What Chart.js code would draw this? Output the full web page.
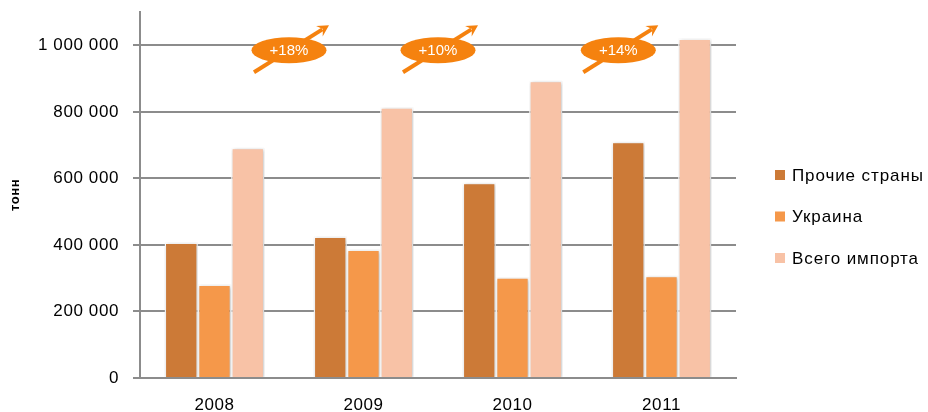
<!DOCTYPE html>
<html>
<head>
<meta charset="utf-8">
<script src="https://cdn.jsdelivr.net/npm/chart.js@4.4.1/dist/chart.umd.min.js"></script>
<style>
  html, body { margin: 0; padding: 0; background: #fff; }
  #wrap { width: 928px; height: 412px; }
</style>
</head>
<body>
<div id="wrap"><canvas id="c" width="928" height="412"></canvas></div>
<script>
const categories = ['2008', '2009', '2010', '2011'];
const seriesNames = ['Прочие страны', 'Украина', 'Всего импорта'];
const otherCountries = [407000, 425000, 587000, 710000];
const ukraine = [281000, 386000, 303000, 307000];
const totalImport = [692000, 814000, 893000, 1020000];
const yTickValues = [0, 200000, 400000, 600000, 800000, 1000000];
const growthLabels = ['+18%', '+10%', '+14%'];

const colors = ['#CC7A37', '#F5984A', '#F8C2A6'];
const FONT = "'Liberation Sans', Arial, sans-serif";
const growthPos = [0.5, 1.5, 2.71];   // category-index positions of growth markers
const growthValue = 985000;           // value level of growth markers

function fmt(v) {
  return String(v).replace(/\B(?=(\d{3})+(?!\d))/g, ' ');
}

const spacingPlugin = {
  id: 'spacing',
  beforeDraw(chart) { chart.ctx.letterSpacing = '0.6px'; }
};

const shadowPlugin = {
  id: 'barShadow',
  beforeDatasetsDraw(chart) {
    const ctx = chart.ctx;
    ctx.save();
    ctx.shadowColor = 'rgba(0,0,0,0.25)';
    ctx.shadowBlur = 4;
    ctx.shadowOffsetX = 1;
    ctx.shadowOffsetY = 1;
  },
  afterDatasetsDraw(chart) {
    chart.ctx.restore();
  }
};

const growthPlugin = {
  id: 'growth',
  afterDatasetsDraw(chart) {
    const ctx = chart.ctx;
    const xs = chart.scales.x, ys = chart.scales.y;
    const step = xs.getPixelForValue(1) - xs.getPixelForValue(0);
    growthLabels.forEach((lab, i) => {
      const cx = xs.getPixelForValue(0) + growthPos[i] * step;
      const cy = ys.getPixelForValue(growthValue);
      ctx.save();
      ctx.strokeStyle = '#F5820F';
      ctx.fillStyle = '#F5820F';
      ctx.lineWidth = 4;
      const x0 = cx - 35, y0 = cy + 22, x1 = cx + 40, y1 = cy - 25;
      const ang = Math.atan2(y1 - y0, x1 - x0);
      const hl = 13;
      ctx.beginPath();
      ctx.moveTo(x0, y0);
      ctx.lineTo(x1 - Math.cos(ang) * hl * 0.6, y1 - Math.sin(ang) * hl * 0.6);
      ctx.stroke();
      ctx.beginPath();
      ctx.moveTo(x1, y1);
      ctx.lineTo(x1 - hl * Math.cos(ang - 0.5), y1 - hl * Math.sin(ang - 0.5));
      ctx.lineTo(x1 - hl * 0.55 * Math.cos(ang), y1 - hl * 0.55 * Math.sin(ang));
      ctx.lineTo(x1 - hl * Math.cos(ang + 0.5), y1 - hl * Math.sin(ang + 0.5));
      ctx.closePath();
      ctx.fill();
      ctx.beginPath();
      ctx.ellipse(cx, cy, 37.5, 13, 0, 0, Math.PI * 2);
      ctx.fill();
      ctx.fillStyle = '#FFFFFF';
      ctx.font = '15px ' + FONT;
      ctx.letterSpacing = '0px';
      ctx.textAlign = 'center';
      ctx.textBaseline = 'middle';
      ctx.fillText(lab, cx, cy + 1);
      ctx.restore();
    });
  }
};

const legendPlugin = {
  id: 'sideLegend',
  afterDraw(chart) {
    const ctx = chart.ctx;
    const ca = chart.chartArea;
    ctx.save();
    chart.data.datasets.forEach((ds, i) => {
      const y = ca.top + 163 + i * 41.5;
      const x = ca.right + 39;
      ctx.fillStyle = ds.backgroundColor;
      ctx.fillRect(x, y - 5, 10, 10);
      ctx.fillStyle = '#000';
      ctx.font = '17px ' + FONT;
      ctx.letterSpacing = '0.9px';
      ctx.textAlign = 'left';
      ctx.textBaseline = 'middle';
      ctx.fillText(ds.label, x + 17, y + 1);
    });
    ctx.restore();
  }
};

const seriesData = [otherCountries, ukraine, totalImport];

new Chart(document.getElementById('c'), {
  type: 'bar',
  data: {
    labels: categories,
    datasets: seriesData.map((d, i) => ({
      label: seriesNames[i],
      data: d,
      backgroundColor: colors[i],
      borderColor: '#FFFFFF',
      borderWidth: 1.5,
      categoryPercentage: 0.67,
      barPercentage: 1.0
    }))
  },
  options: {
    responsive: false,
    animation: false,
    devicePixelRatio: 1,
    layout: { padding: { top: 12, right: 192, left: 0, bottom: 0 } },
    plugins: {
      legend: { display: false },
      tooltip: { enabled: false }
    },
    scales: {
      x: {
        grid: { display: false, drawTicks: false },
        border: { display: true, color: '#8C8C8C', width: 2 },
        ticks: { color: '#000', font: { family: FONT, size: 17 }, padding: 17 },
        afterFit(s) { s.height = 34; s.paddingLeft = 0; s.paddingRight = 0; }
      },
      y: {
        min: 0,
        max: 1100000,
        ticks: {
          stepSize: 200000,
          color: '#000',
          font: { family: FONT, size: 17 },
          padding: 14,
          callback: (v) => fmt(v)
        },
        afterBuildTicks(s) {
          s.ticks = yTickValues.map(v => ({ value: v }));
        },
        grid: { color: '#8C8C8C', lineWidth: 2, tickLength: 7, drawTicks: true, tickColor: '#8C8C8C' },
        border: { display: true, color: '#8C8C8C', width: 2 },
        title: {
          display: true,
          text: 'тонн',
          color: '#000',
          font: { family: FONT, size: 13, weight: 'bold' },
          padding: { top: 8, bottom: 0 }
        },
        afterFit(s) { s.width = 140; s.paddingTop = 0; s.paddingBottom = 0; }
      }
    }
  },
  plugins: [spacingPlugin, shadowPlugin, growthPlugin, legendPlugin]
});
</script>
</body>
</html>
